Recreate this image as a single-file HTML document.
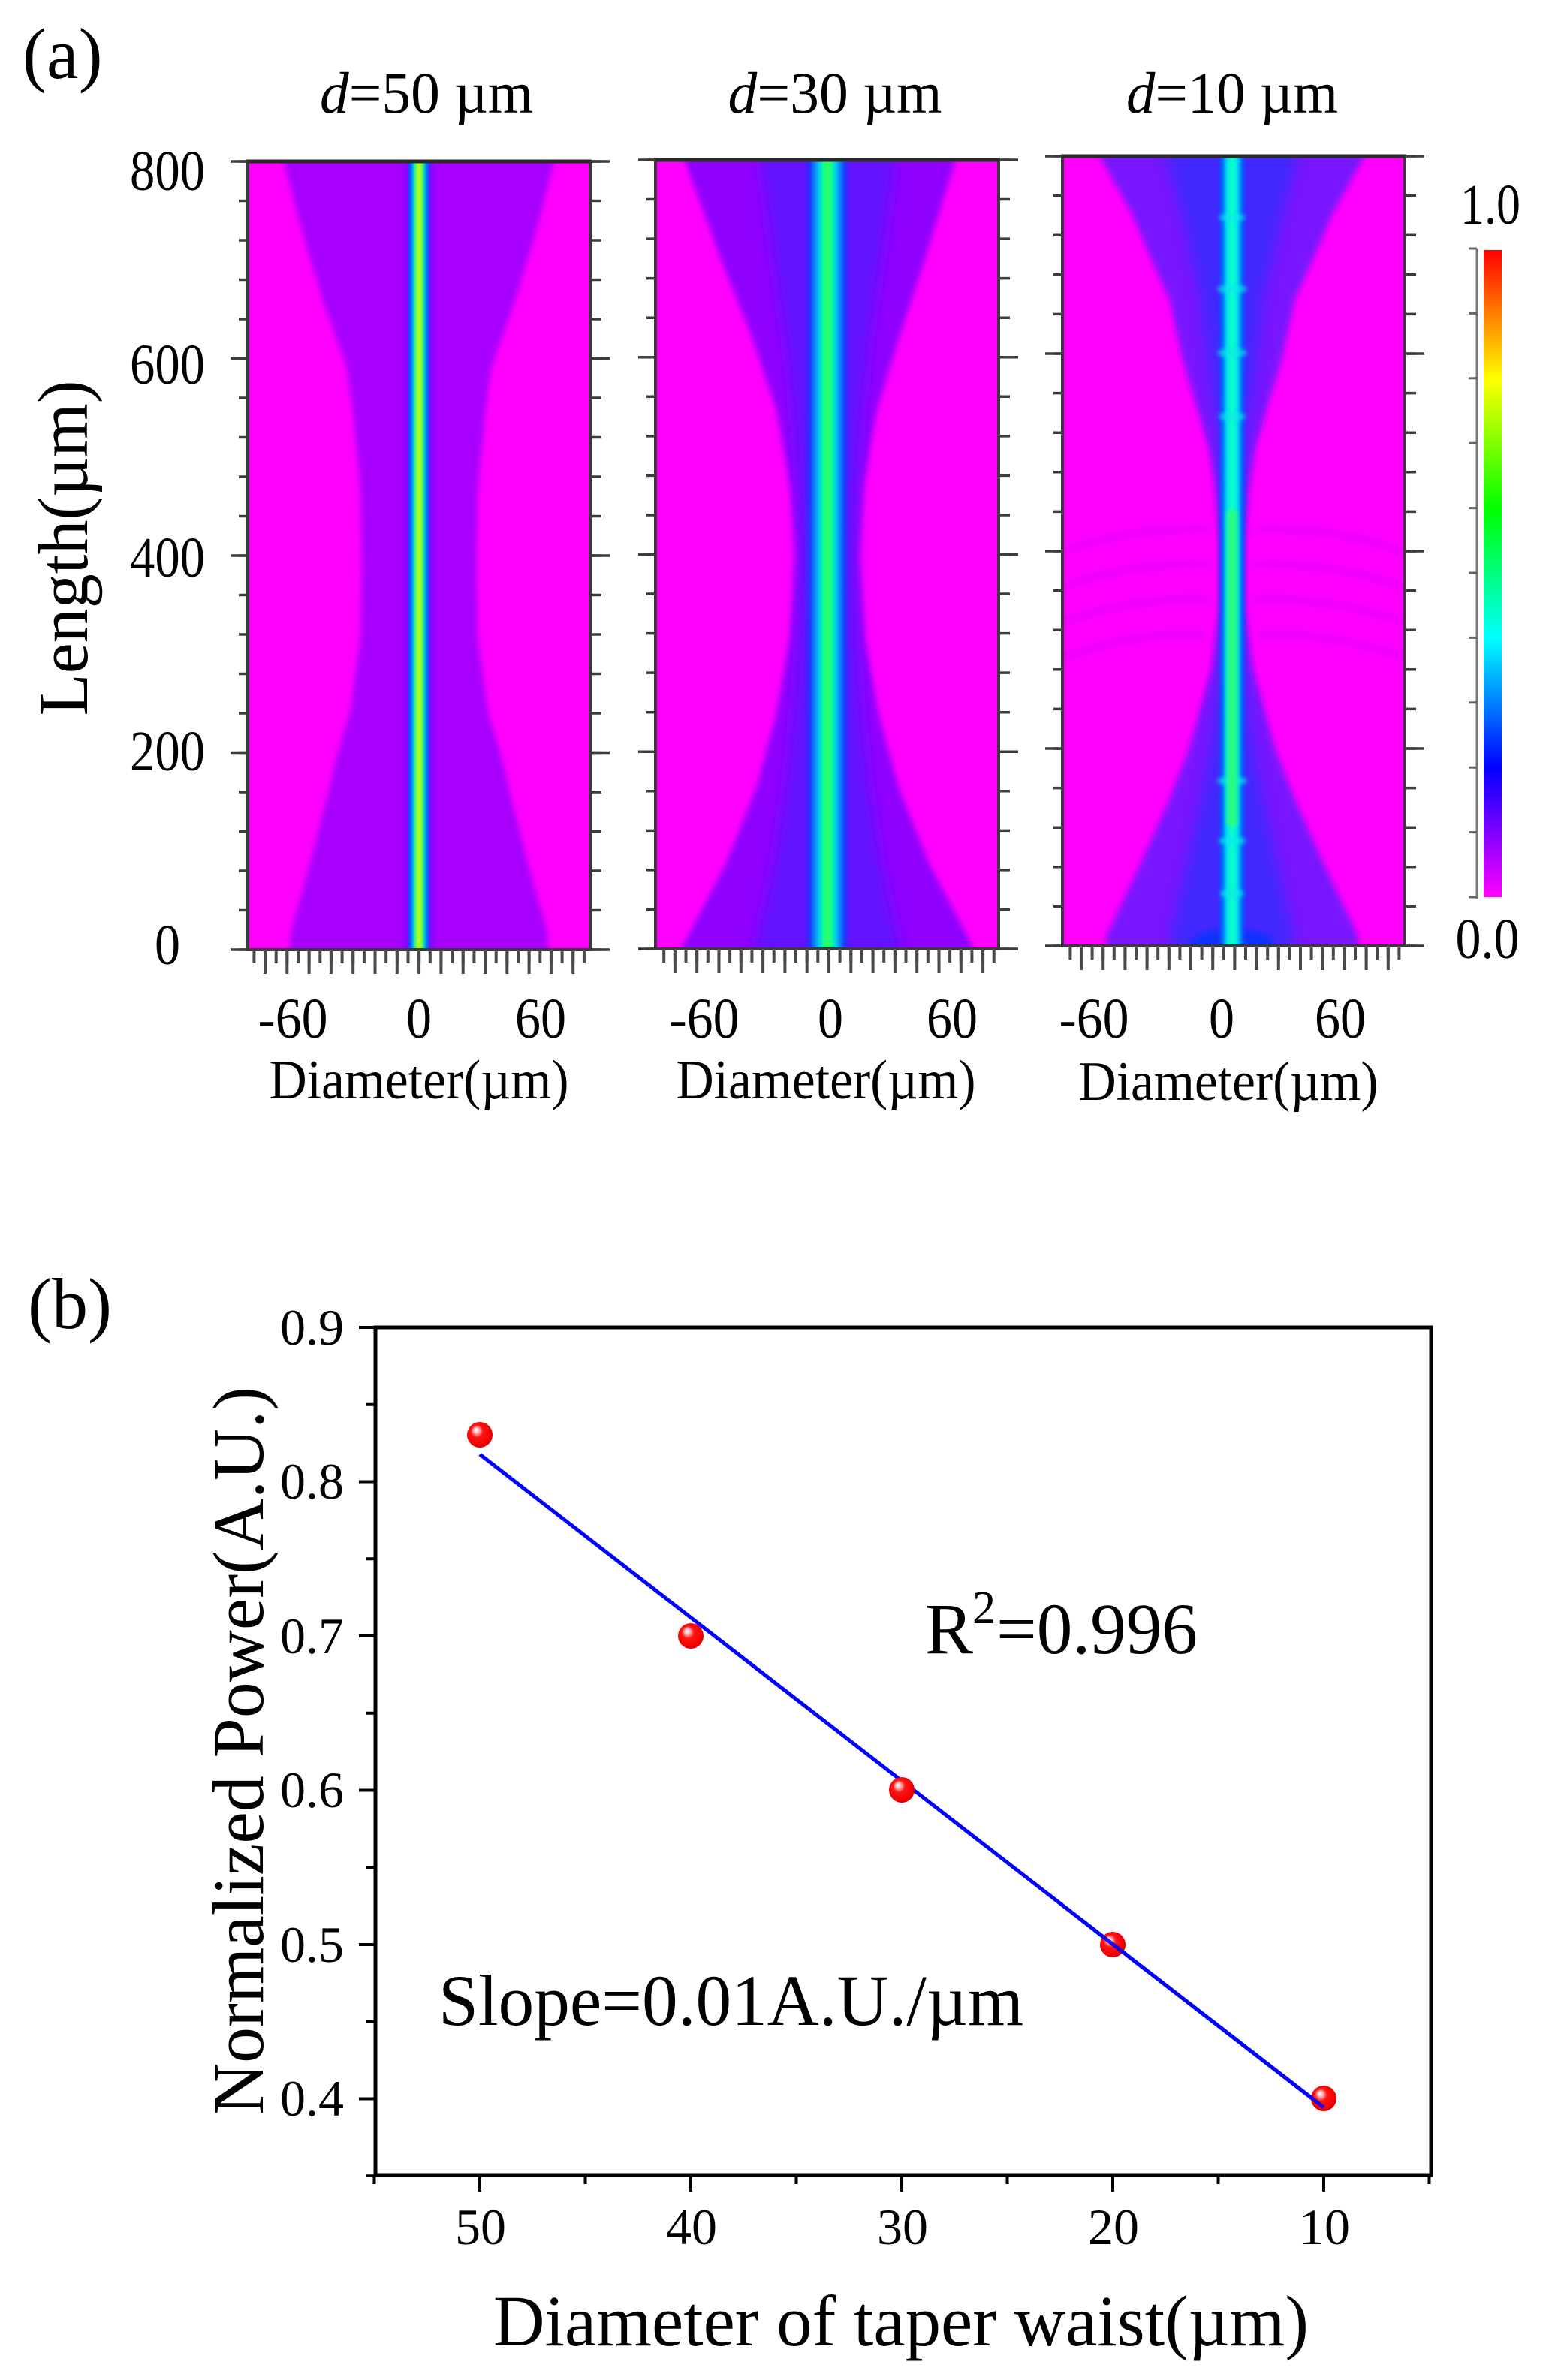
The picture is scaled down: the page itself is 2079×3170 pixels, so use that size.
<!DOCTYPE html>
<html>
<head>
<meta charset="utf-8">
<style>
  html, body { margin: 0; padding: 0; background: #ffffff; }
  svg { display: block; }
  text { font-family: "Liberation Serif", "DejaVu Serif", serif; fill: #000; }
</style>
</head>
<body>
<svg width="2079" height="3170" viewBox="0 0 2079 3170" xmlns="http://www.w3.org/2000/svg">
<defs>
  <clipPath id="c1"><rect x="330" y="215" width="456" height="1050"/></clipPath>
  <clipPath id="c2"><rect x="873" y="213" width="457" height="1051"/></clipPath>
  <clipPath id="c3"><rect x="1415" y="208" width="456" height="1052"/></clipPath>

  <filter id="b4" x="-20%" y="-5%" width="140%" height="110%"><feGaussianBlur stdDeviation="4"/></filter>
  <filter id="b8" x="-20%" y="-5%" width="140%" height="110%"><feGaussianBlur stdDeviation="9"/></filter>
  <filter id="b3" x="-30%" y="-30%" width="160%" height="160%"><feGaussianBlur stdDeviation="3"/></filter>

  <linearGradient id="cb" x1="0" y1="0" x2="0" y2="1">
    <stop offset="0" stop-color="#ff0000"/>
    <stop offset="0.2" stop-color="#ffff00"/>
    <stop offset="0.4" stop-color="#00ff00"/>
    <stop offset="0.6" stop-color="#00ffff"/>
    <stop offset="0.8" stop-color="#0000ff"/>
    <stop offset="1" stop-color="#ff00ff"/>
  </linearGradient>

  <linearGradient id="halo1" x1="0" y1="0" x2="1" y2="0">
    <stop offset="0" stop-color="#a800ff" stop-opacity="0"/>
    <stop offset="0.3" stop-color="#6a10ff"/>
    <stop offset="0.5" stop-color="#3a20ff"/>
    <stop offset="0.7" stop-color="#6a10ff"/>
    <stop offset="1" stop-color="#a800ff" stop-opacity="0"/>
  </linearGradient>

  <linearGradient id="l1" x1="0" y1="0" x2="1" y2="0">
    <stop offset="0" stop-color="#2838ff"/>
    <stop offset="0.15" stop-color="#0080ff"/>
    <stop offset="0.28" stop-color="#10e8b0"/>
    <stop offset="0.4" stop-color="#90ff30"/>
    <stop offset="0.5" stop-color="#b8ff20"/>
    <stop offset="0.6" stop-color="#90ff30"/>
    <stop offset="0.72" stop-color="#10e8b0"/>
    <stop offset="0.85" stop-color="#0080ff"/>
    <stop offset="1" stop-color="#2838ff"/>
  </linearGradient>

  <linearGradient id="l2" x1="0" y1="0" x2="1" y2="0">
    <stop offset="0" stop-color="#3a20ff" stop-opacity="0"/>
    <stop offset="0.15" stop-color="#1840ff"/>
    <stop offset="0.32" stop-color="#00c8f0"/>
    <stop offset="0.42" stop-color="#10ff90"/>
    <stop offset="0.5" stop-color="#30ff60"/>
    <stop offset="0.58" stop-color="#10ff90"/>
    <stop offset="0.68" stop-color="#00c8f0"/>
    <stop offset="0.85" stop-color="#1840ff"/>
    <stop offset="1" stop-color="#3a20ff" stop-opacity="0"/>
  </linearGradient>

  <linearGradient id="l3" x1="0" y1="0" x2="1" y2="0">
    <stop offset="0" stop-color="#2030ff" stop-opacity="0"/>
    <stop offset="0.2" stop-color="#0070ff"/>
    <stop offset="0.35" stop-color="#00e8e8"/>
    <stop offset="0.5" stop-color="#10ffc8"/>
    <stop offset="0.65" stop-color="#00e8e8"/>
    <stop offset="0.8" stop-color="#0070ff"/>
    <stop offset="1" stop-color="#2030ff" stop-opacity="0"/>
  </linearGradient>

  <radialGradient id="ball" cx="0.45" cy="0.45" r="0.6" fx="0.35" fy="0.3">
    <stop offset="0" stop-color="#ffffff"/>
    <stop offset="0.18" stop-color="#ffb8b8"/>
    <stop offset="0.4" stop-color="#ff1414"/>
    <stop offset="0.85" stop-color="#f00000"/>
    <stop offset="1" stop-color="#c80000"/>
  </radialGradient>
</defs>

<rect x="0" y="0" width="2079" height="3170" fill="#ffffff"/>

<!-- ============ PANEL (a) ============ -->
<text x="30" y="104" font-size="96">(a)</text>

<!-- Titles -->
<text x="568" y="150" font-size="78" text-anchor="middle" textLength="284" lengthAdjust="spacingAndGlyphs"><tspan font-style="italic">d</tspan>=50 µm</text>
<text x="1112" y="150" font-size="78" text-anchor="middle" textLength="285" lengthAdjust="spacingAndGlyphs"><tspan font-style="italic">d</tspan>=30 µm</text>
<text x="1641" y="150" font-size="78" text-anchor="middle" textLength="282" lengthAdjust="spacingAndGlyphs"><tspan font-style="italic">d</tspan>=10 µm</text>

<!-- Panel 1 heatmap -->
<g clip-path="url(#c1)">
  <rect x="330" y="215" width="456" height="1050" fill="#ff00ff"/>
  <path filter="url(#b4)" fill="#a806ff" d="M378,205 L378,215 L400,300 L430,400 L455,470 L462,490 L470,550 L480,650 L482,750 L480,850 L466,950 L450,1002 L436,1060 L413,1150 L387,1243 L386,1275 L730,1275 L729,1243 L703,1150 L680,1060 L666,1002 L650,950 L636,850 L634,750 L636,650 L646,550 L654,490 L661,470 L686,400 L716,300 L738,215 L738,205 Z"/>
  <rect x="528" y="205" width="60" height="1070" fill="url(#halo1)"/>
  <rect x="544" y="205" width="28" height="1070" fill="url(#l1)"/>
</g>

<!-- Panel 2 heatmap -->
<g clip-path="url(#c2)">
  <rect x="873" y="213" width="457" height="1051" fill="#ff00ff"/>
  <path filter="url(#b4)" fill="#9006ff" d="M912,200 L912,214 L962,350 L1002,450 L1035,550 L1053,650 L1060,740 L1052,850 L1034,950 L1007,1050 L967,1150 L907,1264 L900,1275 L1304,1275 L1297,1264 L1237,1150 L1197,1050 L1170,950 L1152,850 L1144,740 L1150,650 L1167,550 L1197,450 L1230,350 L1272,214 L1272,200 Z"/>
  <path filter="url(#b8)" fill="#5a14ff" opacity="0.85" d="M1012,200 L1012,214 L1030,350 L1045,450 L1056,550 L1063,650 L1066,740 L1063,850 L1056,950 L1045,1050 L1030,1150 L1005,1264 L1000,1275 L1204,1275 L1199,1264 L1174,1150 L1159,1050 L1148,950 L1141,850 L1138,740 L1141,650 L1148,550 L1159,450 L1174,350 L1192,214 L1192,200 Z"/>
  <rect x="1070" y="200" width="64" height="1075" fill="url(#l2)"/>
</g>

<!-- Panel 3 heatmap -->
<g clip-path="url(#c3)">
  <rect x="1415" y="208" width="456" height="1052" fill="#ff00ff"/>
  <g filter="url(#b4)" fill="none" stroke="#b400ff" stroke-width="12" opacity="0.22">
    <path d="M1415,735 Q1510,700 1610,705"/>
    <path d="M1672,705 Q1772,700 1871,735"/>
    <path d="M1415,782 Q1510,747 1612,752"/>
    <path d="M1670,752 Q1772,747 1871,782"/>
    <path d="M1415,829 Q1510,794 1612,799"/>
    <path d="M1670,799 Q1772,794 1871,829"/>
    <path d="M1415,876 Q1510,841 1605,846"/>
    <path d="M1677,846 Q1772,841 1871,876"/>
  </g>
  <path filter="url(#b4)" fill="#7a12ff" d="M1465,195 L1465,208 L1507,284 L1536,351 L1558,400 L1574,475 L1610,596 L1619,650 L1626,730 L1626,800 L1614,889 L1583,999 L1556,1068 L1516,1157 L1474,1246 L1474,1272 L1808,1272 L1808,1246 L1766,1157 L1726,1068 L1699,999 L1668,889 L1656,800 L1656,730 L1663,650 L1672,596 L1708,475 L1724,400 L1746,351 L1775,284 L1817,208 L1817,195 Z"/>
  <path filter="url(#b8)" fill="#3a2aff" opacity="0.9" d="M1553,195 L1553,208 L1574,284 L1589,351 L1600,400 L1608,475 L1625,596 L1630,650 L1634,730 L1634,800 L1627,889 L1612,999 L1599,1068 L1580,1157 L1560,1246 L1560,1272 L1722,1272 L1722,1246 L1702,1157 L1683,1068 L1670,999 L1655,889 L1648,800 L1648,730 L1652,650 L1657,596 L1674,475 L1682,400 L1693,351 L1708,284 L1729,208 L1729,195 Z"/>
  <ellipse cx="1641" cy="1258" rx="55" ry="20" fill="#1030ff" filter="url(#b4)"/>
  <rect x="1620" y="200" width="42" height="1070" fill="url(#l3)"/>
  <g fill="#10e8e8" opacity="0.7" filter="url(#b3)">
    <ellipse cx="1641" cy="290" rx="18" ry="5"/>
    <ellipse cx="1641" cy="385" rx="20" ry="6"/>
    <ellipse cx="1641" cy="470" rx="20" ry="6"/>
    <ellipse cx="1641" cy="555" rx="18" ry="6"/>
    <ellipse cx="1641" cy="1040" rx="20" ry="6"/>
    <ellipse cx="1641" cy="1120" rx="18" ry="6"/>
    <ellipse cx="1641" cy="1190" rx="16" ry="6"/>
  </g>
  <rect x="1634" y="680" width="14" height="420" fill="#30ff70" opacity="0.8" filter="url(#b3)"/>
</g>

<!-- Panel frames -->
<g fill="none" stroke="#3a3a3a" stroke-width="4">
  <rect x="330" y="215" width="456" height="1050"/>
  <rect x="873" y="213" width="457" height="1051"/>
  <rect x="1415" y="208" width="456" height="1052"/>
</g>
<g fill="none" stroke="#2a2a2a" stroke-width="5">
  <line x1="328" y1="215" x2="788" y2="215"/>
  <line x1="871" y1="213" x2="1332" y2="213"/>
  <line x1="1413" y1="208" x2="1873" y2="208"/>
</g>

<!-- Panel y ticks -->
<g fill="none" stroke="#3c3c3c">
  <line x1="324" y1="213.25" x2="324" y2="1267" stroke-width="12" stroke-dasharray="3.5 49"/>
  <line x1="318.5" y1="213.25" x2="318.5" y2="1267" stroke-width="23" stroke-dasharray="3.5 259"/>
  <line x1="793.5" y1="213.25" x2="793.5" y2="1267" stroke-width="15" stroke-dasharray="3.5 49"/>
  <line x1="799" y1="213.25" x2="799" y2="1267" stroke-width="26" stroke-dasharray="3.5 259"/>
  <line x1="867" y1="211.25" x2="867" y2="1266" stroke-width="12" stroke-dasharray="3.5 49.05"/>
  <line x1="861.5" y1="211.25" x2="861.5" y2="1266" stroke-width="23" stroke-dasharray="3.5 259.25"/>
  <line x1="1337.5" y1="211.25" x2="1337.5" y2="1266" stroke-width="15" stroke-dasharray="3.5 49.05"/>
  <line x1="1343" y1="211.25" x2="1343" y2="1266" stroke-width="26" stroke-dasharray="3.5 259.25"/>
  <line x1="1409" y1="206.25" x2="1409" y2="1262" stroke-width="12" stroke-dasharray="3.5 49.1"/>
  <line x1="1403.5" y1="206.25" x2="1403.5" y2="1262" stroke-width="23" stroke-dasharray="3.5 259.5"/>
  <line x1="1878.5" y1="206.25" x2="1878.5" y2="1262" stroke-width="15" stroke-dasharray="3.5 49.1"/>
  <line x1="1884" y1="206.25" x2="1884" y2="1262" stroke-width="26" stroke-dasharray="3.5 259.5"/>
</g>

<!-- Panel x ticks -->
<g fill="none" stroke="#4a4a4a">
  <line x1="336.4" y1="1274" x2="784" y2="1274" stroke-width="18" stroke-dasharray="4 10.65"/>
  <line x1="351" y1="1281" x2="784" y2="1281" stroke-width="32" stroke-dasharray="4 25.3"/>
  <line x1="882.2" y1="1273" x2="1327" y2="1273" stroke-width="18" stroke-dasharray="4 10.65"/>
  <line x1="896.9" y1="1280" x2="1327" y2="1280" stroke-width="32" stroke-dasharray="4 25.3"/>
  <line x1="1423.4" y1="1269" x2="1869" y2="1269" stroke-width="18" stroke-dasharray="4 10.6"/>
  <line x1="1438" y1="1276" x2="1869" y2="1276" stroke-width="32" stroke-dasharray="4 25.2"/>
</g>

<!-- Y tick labels (a) -->
<g font-size="76" text-anchor="middle">
  <text x="223" y="253" textLength="100" lengthAdjust="spacingAndGlyphs">800</text>
  <text x="223" y="511" textLength="100" lengthAdjust="spacingAndGlyphs">600</text>
  <text x="223" y="768" textLength="100" lengthAdjust="spacingAndGlyphs">400</text>
  <text x="223" y="1026" textLength="100" lengthAdjust="spacingAndGlyphs">200</text>
  <text x="223" y="1284" textLength="34" lengthAdjust="spacingAndGlyphs">0</text>
</g>
<text transform="translate(116,730) rotate(-90)" font-size="94" text-anchor="middle" textLength="447" lengthAdjust="spacingAndGlyphs">Length(µm)</text>

<!-- X tick labels (a) -->
<g font-size="76" text-anchor="middle">
  <text x="390" y="1382" textLength="93" lengthAdjust="spacingAndGlyphs">-60</text>
  <text x="558" y="1382" textLength="34" lengthAdjust="spacingAndGlyphs">0</text>
  <text x="720" y="1382" textLength="68" lengthAdjust="spacingAndGlyphs">60</text>
  <text x="938" y="1382" textLength="93" lengthAdjust="spacingAndGlyphs">-60</text>
  <text x="1106" y="1382" textLength="34" lengthAdjust="spacingAndGlyphs">0</text>
  <text x="1268" y="1382" textLength="68" lengthAdjust="spacingAndGlyphs">60</text>
  <text x="1457" y="1382" textLength="93" lengthAdjust="spacingAndGlyphs">-60</text>
  <text x="1627" y="1382" textLength="34" lengthAdjust="spacingAndGlyphs">0</text>
  <text x="1785" y="1382" textLength="68" lengthAdjust="spacingAndGlyphs">60</text>
</g>
<g font-size="74" text-anchor="middle">
  <text x="558" y="1463" textLength="399" lengthAdjust="spacingAndGlyphs">Diameter(µm)</text>
  <text x="1100" y="1463" textLength="399" lengthAdjust="spacingAndGlyphs">Diameter(µm)</text>
  <text x="1636" y="1465" textLength="399" lengthAdjust="spacingAndGlyphs">Diameter(µm)</text>
</g>

<!-- Colorbar -->
<rect x="1976" y="333" width="24" height="862" fill="url(#cb)"/>
<line x1="1967" y1="331" x2="1967" y2="1197" stroke="#777" stroke-width="3"/>
<line x1="1961.5" y1="329.5" x2="1961.5" y2="1198" stroke="#666" stroke-width="11" stroke-dasharray="3 83.4"/>
<text x="1985" y="298" font-size="76" text-anchor="middle" textLength="80" lengthAdjust="spacingAndGlyphs">1.0</text>
<text x="1981" y="1276" font-size="76" text-anchor="middle" textLength="85" lengthAdjust="spacingAndGlyphs">0.0</text>

<!-- ============ PANEL (b) ============ -->
<text x="37" y="1769" font-size="96">(b)</text>

<g fill="none" stroke="#000">
  <line x1="494" y1="1766" x2="494" y2="2900" stroke-width="12" stroke-dasharray="4 98.75"/>
  <line x1="489" y1="1766" x2="489" y2="2800" stroke-width="22" stroke-dasharray="4 201.5"/>
  <line x1="496.5" y1="2903" x2="1908" y2="2903" stroke-width="12" stroke-dasharray="4 136.5"/>
  <line x1="637" y1="2908" x2="1770" y2="2908" stroke-width="22" stroke-dasharray="4 277"/>
</g>
<rect x="500" y="1768" width="1406" height="1129" fill="none" stroke="#000" stroke-width="5"/>

<g font-size="68" text-anchor="end">
  <text x="458" y="1791">0.9</text>
  <text x="458" y="1996">0.8</text>
  <text x="458" y="2202">0.7</text>
  <text x="458" y="2407">0.6</text>
  <text x="458" y="2613">0.5</text>
  <text x="458" y="2818">0.4</text>
</g>
<g font-size="68" text-anchor="middle">
  <text x="640" y="2989">50</text>
  <text x="921" y="2989">40</text>
  <text x="1202" y="2989">30</text>
  <text x="1483" y="2989">20</text>
  <text x="1764" y="2989">10</text>
</g>

<text transform="translate(350,2332) rotate(-90)" font-size="96" text-anchor="middle" textLength="970" lengthAdjust="spacingAndGlyphs">Normalized Power(A.U.)</text>
<text x="1200" y="3124" font-size="96" text-anchor="middle" textLength="1086" lengthAdjust="spacingAndGlyphs">Diameter of taper waist(µm)</text>

<line x1="639" y1="1937" x2="1763" y2="2807" stroke="#0000ff" stroke-width="5"/>

<g fill="url(#ball)">
  <circle cx="639" cy="1911" r="17"/>
  <circle cx="920" cy="2179" r="17"/>
  <circle cx="1201" cy="2384" r="17"/>
  <circle cx="1482" cy="2590" r="17"/>
  <circle cx="1763" cy="2795" r="17"/>
</g>
<line x1="1440" y1="2557" x2="1763" y2="2807" stroke="#0000ff" stroke-width="5" opacity="0.9"/>

<text x="1232" y="2202" font-size="96">R</text>
<text x="1295" y="2162" font-size="62">2</text>
<text x="1327" y="2202" font-size="96" textLength="268" lengthAdjust="spacingAndGlyphs">=0.996</text>
<text x="584" y="2697" font-size="96" textLength="779" lengthAdjust="spacingAndGlyphs">Slope=0.01A.U./µm</text>

</svg>
</body>
</html>
